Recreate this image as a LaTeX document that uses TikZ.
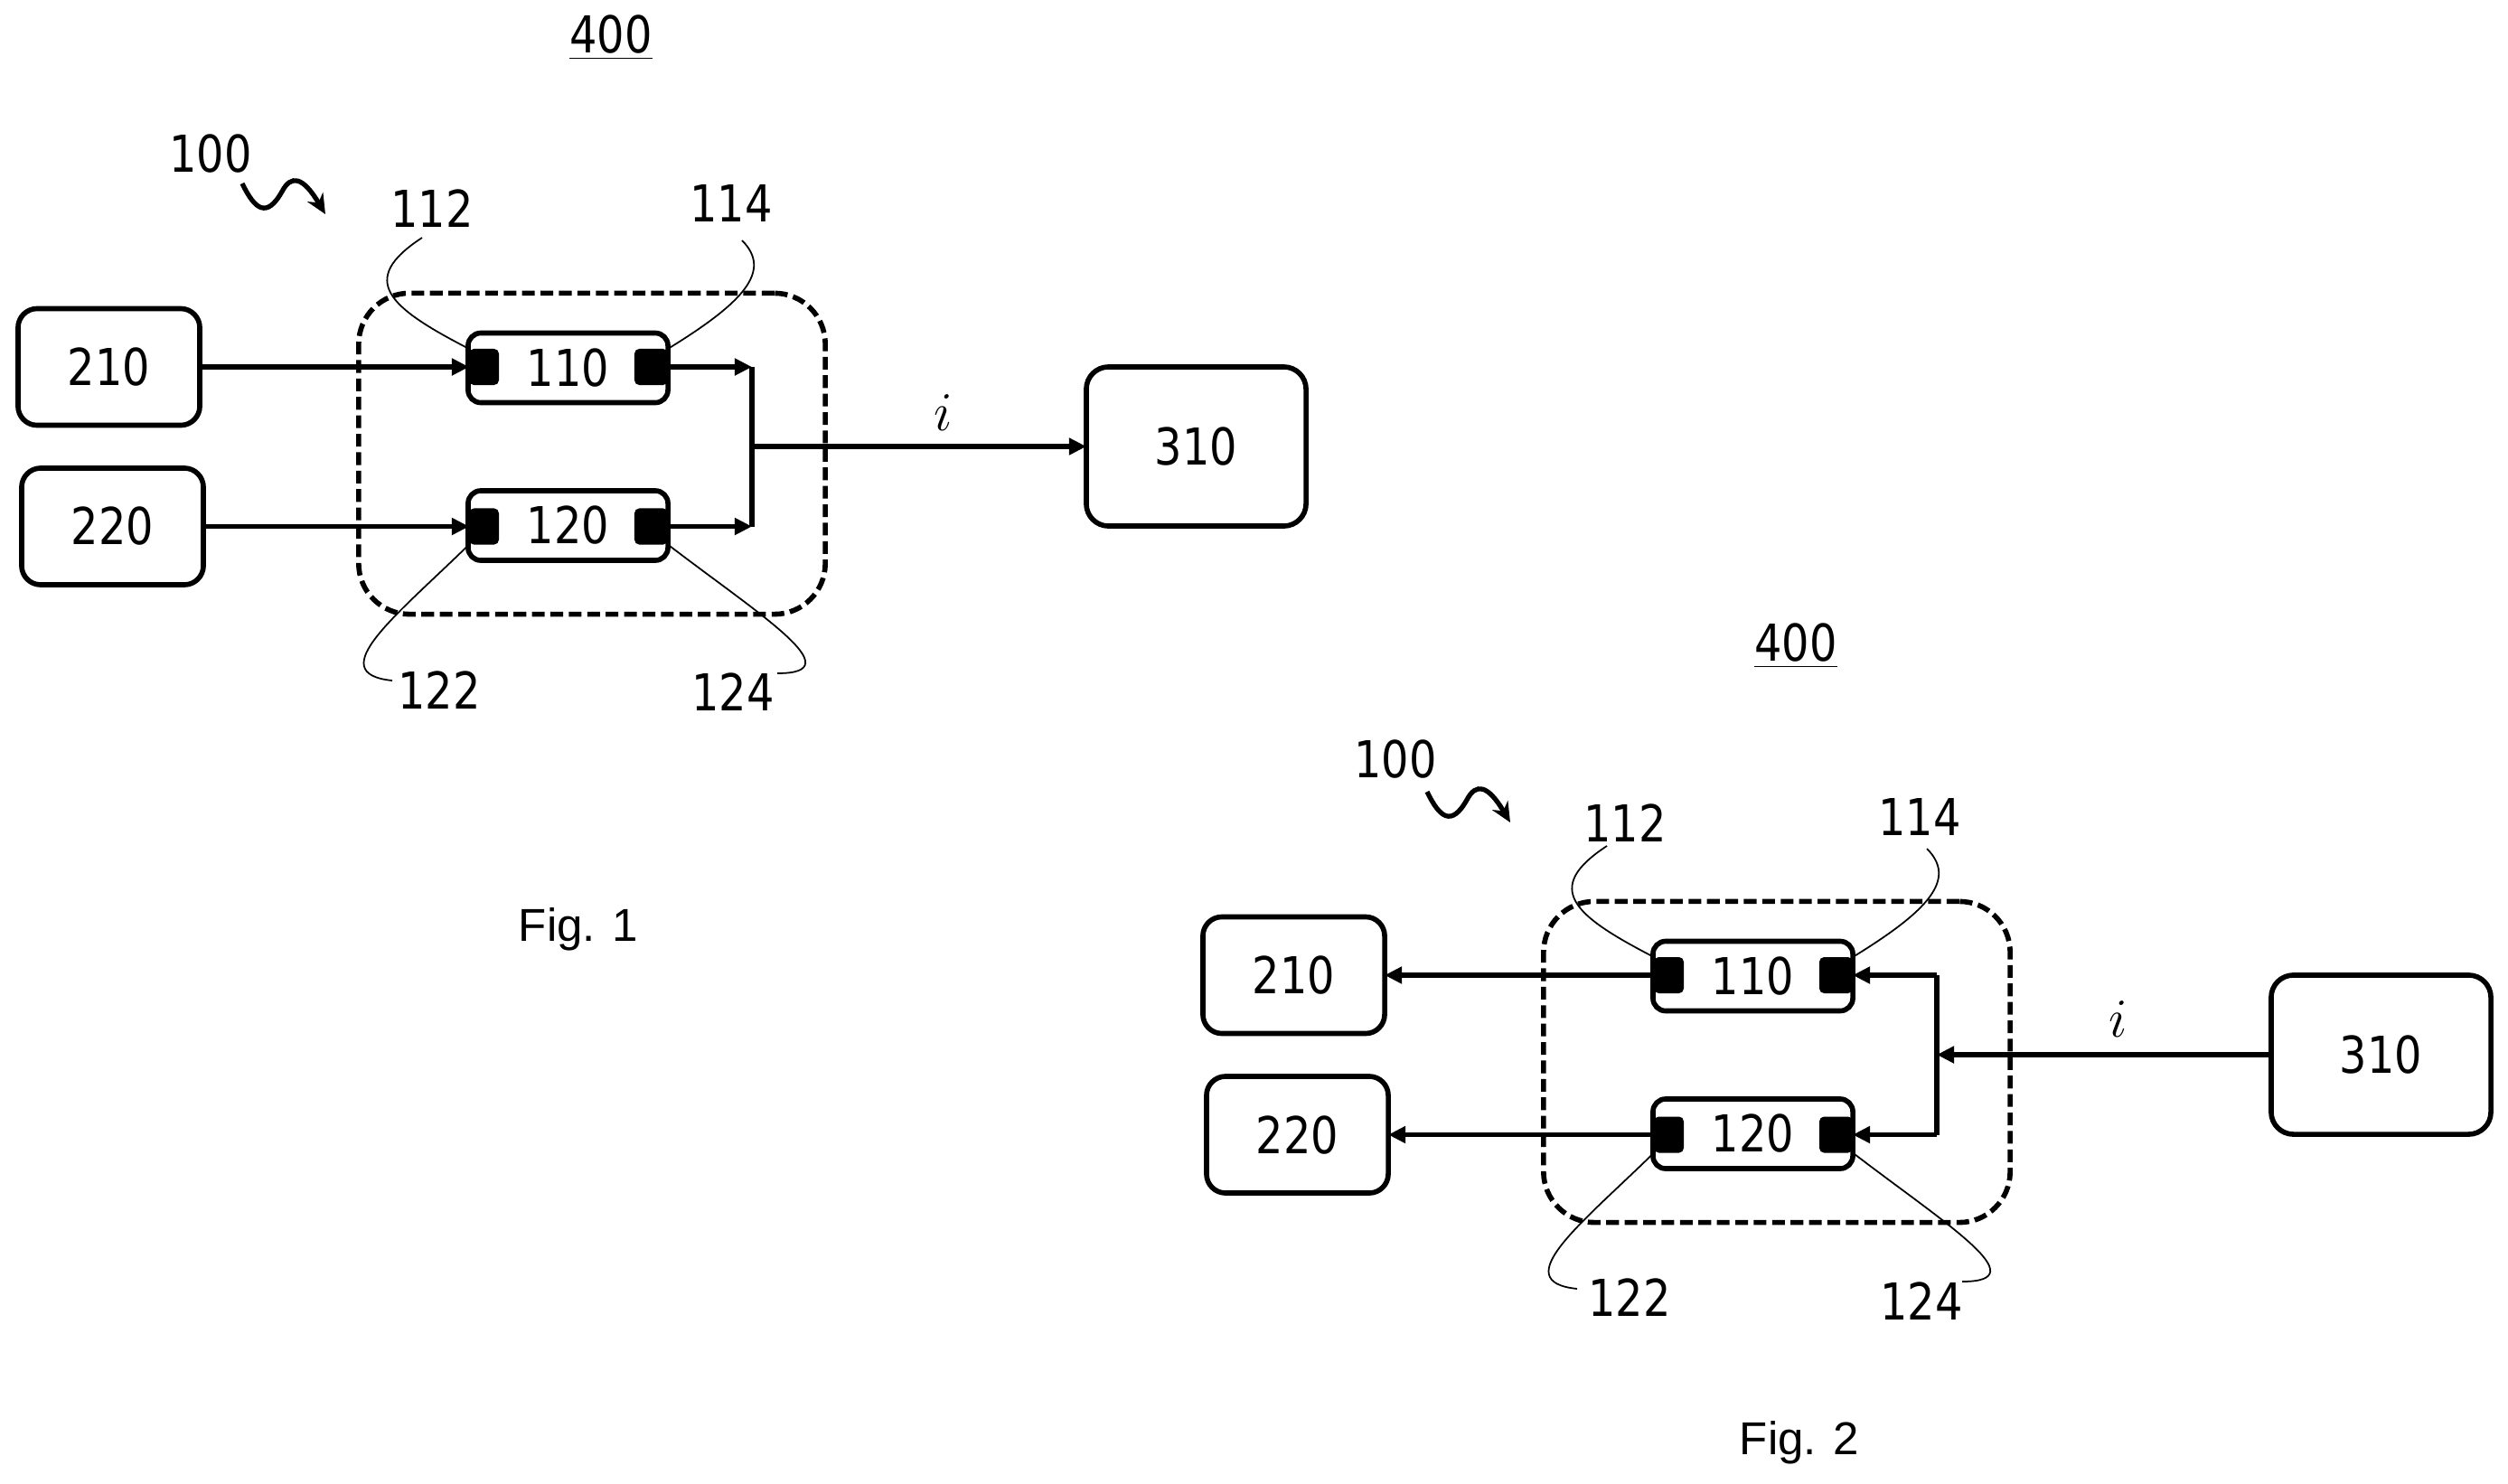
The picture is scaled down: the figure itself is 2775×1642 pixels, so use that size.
\documentclass[tikz,border=0pt]{standalone}
\usepackage{fontspec}
\setmainfont[FakeStretch=0.85]{DejaVu Sans}
\newfontfamily\figfont{Liberation Sans}
\usetikzlibrary{arrows.meta}
\tikzset{
	every node/.style={font=\fontsize{16}{18}\selectfont,inner sep=0pt,outer sep=0pt},
	srcbox/.style={draw,line width=1.6pt,rounded corners=6pt,minimum width=2.01cm,minimum height=1.29cm},
	loadbox/.style={draw,line width=1.6pt,rounded corners=7pt,minimum width=2.43cm,minimum height=1.76cm},
	cellbox/.style={draw,line width=1.6pt,rounded corners=4pt,minimum width=2.21cm,minimum height=0.77cm},
	padbox/.style={fill=black,rounded corners=1.5pt,minimum width=0.33cm,minimum height=0.40cm},
	groupbox/.style={draw,line width=1.6pt,dash pattern=on 4pt off 1.8pt,rounded corners=16pt,minimum width=5.16cm,minimum height=3.55cm},
	wire/.style={line width=1.5pt,-{Triangle[length=0.19cm,width=0.18cm]}},
	bus/.style={line width=1.8pt},
	leader/.style={line width=0.5pt},
	wave/.style={line width=1.5pt,-{Stealth[length=0.22cm,width=0.2cm]}},
	figlabel/.style={font=\fontsize{14.5}{17}\selectfont\figfont}
}
\begin{document}
\begin{tikzpicture}[x=0.01cm,y=-0.01cm]
	\useasboundingbox (0,0) rectangle (2775,1642);
	% Fig. 1
	\node[groupbox] (grpA) at (655,502) {};
	\node[srcbox] (a210) at (120.5,406) {210};
	\node[srcbox] (a220) at (124.5,582.5) {220};
	\node[loadbox] (a310) at (1323.5,494) {310};
	\node[cellbox] (a110) at (628.5,407) {110};
	\node[cellbox] (a120) at (628.5,581.5) {120};
	\node[padbox] (a112p) at (535.5,406) {};
	\node[padbox,minimum width=0.37cm] (a114p) at (720.5,406) {};
	\node[padbox] (a122p) at (535.5,582.5) {};
	\node[padbox,minimum width=0.37cm] (a124p) at (720.5,582.5) {};
	\node (a400) at (676,42) {\underline{400}};
	\node (a100) at (233,170) {100};
	\node (a112) at (478,231) {112};
	\node (a114) at (809,225) {114};
	\node (a122) at (486,764) {122};
	\node (a124) at (811,766) {124};
	\node (ai) at (1044,457) {$i$};
	\node[figlabel] (afig) at (640,1028) {Fig. 1};
	\coordinate (atop) at (832,406);
	\coordinate (abot) at (832,582.5);
	\coordinate (amid) at (832,494);
	\coordinate (aw) at (268,203);
	\coordinate (aw1) at (312,212);
	\coordinate (aw2) at (360,237);
	\coordinate (as112) at (467,263);
	\coordinate (as114) at (821,266);
	\coordinate (as122) at (434,753);
	\coordinate (as124) at (860,745);
	\draw[wire] (a210) -- (a112p);
	\draw[wire] (a220) -- (a122p);
	\draw[wire] (a114p) -- (atop);
	\draw[wire] (a124p) -- (abot);
	\draw[bus] (atop) -- (abot);
	\draw[wire] (amid) -- (a310);
	\draw[wave] (aw) .. controls (282,232) and (295,242) .. (aw1) .. controls (322,193) and (335,195) .. (aw2);
	\draw[leader] (as112) .. controls (395,310) and (430,340) .. (a112p.north west);
	\draw[leader] (as114) .. controls (855,300) and (822,335) .. (a114p.north east);
	\draw[leader] (as122) .. controls (355,745) and (440,680) .. (a122p.south west);
	\draw[leader] (as124) .. controls (945,745) and (840,680) .. (a124p.south east);
	% Fig. 2
	\begin{scope}[shift={(1311,673)}]
		\node[groupbox] (grpB) at (655,502) {};
		\node[srcbox] (b210) at (120.5,406) {210};
		\node[srcbox] (b220) at (124.5,582.5) {220};
		\node[loadbox] (b310) at (1323.5,494) {310};
		\node[cellbox] (b110) at (628.5,407) {110};
		\node[cellbox] (b120) at (628.5,581.5) {120};
		\node[padbox] (b112p) at (535.5,406) {};
		\node[padbox,minimum width=0.37cm] (b114p) at (720.5,406) {};
		\node[padbox] (b122p) at (535.5,582.5) {};
		\node[padbox,minimum width=0.37cm] (b124p) at (720.5,582.5) {};
		\node (b400) at (676,42) {\underline{400}};
		\node (b100) at (233,167) {100};
		\node (b112) at (487,238) {112};
		\node (b114) at (813,231) {114};
		\node (b122) at (492,763) {122};
		\node (b124) at (815,767) {124};
		\node (bi) at (1033,455) {$i$};
		\node[figlabel] (bfig) at (680,923) {Fig. 2};
		\coordinate (btop) at (832,406);
		\coordinate (bbot) at (832,582.5);
		\coordinate (bmid) at (832,494);
		\coordinate (bw) at (268,203);
		\coordinate (bw1) at (312,212);
		\coordinate (bw2) at (360,237);
		\coordinate (bs112) at (467,263);
		\coordinate (bs114) at (821,266);
		\coordinate (bs122) at (434,753);
		\coordinate (bs124) at (860,745);
		\draw[wire] (b112p) -- (b210);
		\draw[wire] (b122p) -- (b220);
		\draw[wire] (btop) -- (b114p);
		\draw[wire] (bbot) -- (b124p);
		\draw[bus] (btop) -- (bbot);
		\draw[wire] (b310) -- (bmid);
		\draw[wave] (bw) .. controls (282,232) and (295,242) .. (bw1) .. controls (322,193) and (335,195) .. (bw2);
		\draw[leader] (bs112) .. controls (395,310) and (430,340) .. (b112p.north west);
		\draw[leader] (bs114) .. controls (855,300) and (822,335) .. (b114p.north east);
		\draw[leader] (bs122) .. controls (355,745) and (440,680) .. (b122p.south west);
		\draw[leader] (bs124) .. controls (945,745) and (840,680) .. (b124p.south east);
	\end{scope}
\end{tikzpicture}
\end{document}
